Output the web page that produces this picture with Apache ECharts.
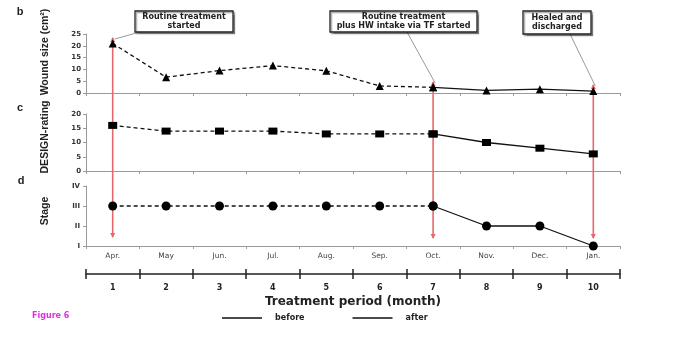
<!DOCTYPE html>
<html><head><meta charset="utf-8">
<script src="https://cdn.jsdelivr.net/npm/echarts@6/dist/echarts.min.js"></script>
<style>html,body{margin:0;padding:0;background:#fff}#c{width:688px;height:352px}</style>
</head><body><div id="c"></div>
<script>
const months = ['Apr.','May','Jun.','Jul.','Aug.','Sep.','Oct.','Nov.','Dec.','Jan.'];
const periods = ['1','2','3','4','5','6','7','8','9','10'];
const woundSize = [21, 6.7, 9.5, 11.6, 9.4, 3, 2.4, 1.1, 1.6, 0.8];
const designRating = [16, 14, 14, 14, 13, 13, 13, 10, 8, 6];
const stage = [3, 3, 3, 3, 3, 3, 3, 2, 2, 1];
const stageLabels = ['I', 'II', 'III', 'IV'];
const splitIndex = 6; // Oct.: HW intake started
const woundTicks = [0, 25, 5];
const designTicks = [0, 20, 5];

const FONT = '"Liberation Sans", Arial, sans-serif';
const WIDE = '"DejaVu Sans", sans-serif';
const before = a => a.map((v, i) => i <= splitIndex ? v : null);
const after = a => a.map((v, i) => i >= splitIndex ? v : null);

const chart = echarts.init(document.getElementById('c'), null, {renderer: 'canvas'});
const L = 86, R = 68;
const grids = [
  {left: L, right: R, top: 34, height: 59},
  {left: L, right: R, top: 114, height: 57},
  {left: L, right: R, top: 186, height: 60},
  {left: L, right: R, top: 269, height: 10}
];
const gray = '#9a9a9a';
function catAxis(gi, extra) {
  return Object.assign({
    type: 'category', gridIndex: gi, data: months, boundaryGap: true,
    axisLine: {lineStyle: {color: gray, width: 1}},
    axisTick: {show: true, length: 3, lineStyle: {color: gray}},
    axisLabel: {show: false}
  }, extra || {});
}
function valAxis(gi, min, max, itv, extra) {
  return Object.assign({
    type: 'value', gridIndex: gi, min: min, max: max, interval: itv,
    splitLine: {show: false},
    axisLine: {show: true, lineStyle: {color: gray}},
    axisTick: {show: true, length: 3, lineStyle: {color: gray}},
    axisLabel: {fontSize: 7, color: '#333', fontFamily: WIDE, fontWeight: 'bold', margin: 5}
  }, extra || {});
}
const xAxes = [
  catAxis(0), catAxis(1),
  catAxis(2, {axisLabel: {show: true, fontSize: 7.5, color: '#444', fontFamily: WIDE, margin: 6, interval: 0}}),
  {type: 'category', gridIndex: 3, data: periods, boundaryGap: true, position: 'bottom',
   axisLine: {show: false}, axisTick: {show: false},
   splitLine: {show: true, interval: 0, lineStyle: {color: '#222', width: 1.5}},
   axisLabel: {fontSize: 8, fontWeight: 'bold', color: '#222', fontFamily: WIDE, margin: 5, interval: 0},
   name: 'Treatment period (month)', nameLocation: 'middle', nameGap: 17,
   nameTextStyle: {fontSize: 12, fontWeight: 'bold', color: '#222', fontFamily: WIDE}},
  {type: 'category', gridIndex: 3, data: periods, boundaryGap: true, position: 'top', offset: -5,
   axisLine: {lineStyle: {color: '#222', width: 1.5}},
   axisTick: {show: false}, axisLabel: {show: false}}
];
const yAxes = [
  valAxis(0, woundTicks[0], woundTicks[1], woundTicks[2]),
  valAxis(1, designTicks[0], designTicks[1], designTicks[2]),
  valAxis(2, 1, stageLabels.length, 1, {axisLabel: {fontSize: 7, color: '#333', fontFamily: WIDE, fontWeight: 'bold', margin: 6,
    formatter: v => stageLabels[v - 1] || ''}}),
  {type: 'value', gridIndex: 3, show: false}
];
function pair(idx, data, symbol, size) {
  const common = {type: 'line', xAxisIndex: idx, yAxisIndex: idx, symbol: symbol, symbolSize: size,
    itemStyle: {color: '#000'}, connectNulls: false, z: 3};
  return [
    Object.assign({name: 'before', data: before(data), lineStyle: {color: '#111', width: 1.3, type: [4, 3]}}, common),
    Object.assign({name: 'after', data: after(data), lineStyle: {color: '#111', width: 1.3, type: 'solid'}}, common)
  ];
}
const series = [].concat(
  pair(0, woundSize, 'triangle', 8),
  pair(1, designRating, 'rect', [9, 7]),
  pair(2, stage, 'circle', 9)
);

chart.setOption({
  animation: false,
  grid: grids, xAxis: xAxes, yAxis: yAxes, series: series,
  legend: {
    left: 222, top: 314, padding: 0, itemWidth: 40, itemHeight: 1.5, itemGap: 48,
    data: [{name: 'before', icon: 'rect'}, {name: 'after', icon: 'rect'}],
    itemStyle: {color: '#111'},
    textStyle: {fontSize: 8, fontWeight: 'bold', color: '#222', fontFamily: WIDE, padding: [0, 0, 0, 8]},
    selectedMode: false
  }
});

// annotations anchored through the axes
const red = '#e8676b';
const xp = i => chart.convertToPixel({xAxisIndex: 0}, months[i]);
const yB = v => chart.convertToPixel({yAxisIndex: 0}, v);
const yD = v => chart.convertToPixel({yAxisIndex: 2}, v);
const arrows = [
  {i: 0, top: yB(23.3), bottom: yD(1.45)},
  {i: splitIndex, top: yB(4.7), bottom: yD(1.4)},
  {i: 9, top: yB(3.4), bottom: yD(1.4)}
];
const g = [];
arrows.forEach(a => {
  const x = xp(a.i);
  g.push({type: 'line', shape: {x1: x, y1: a.top, x2: x, y2: a.bottom}, style: {stroke: red, lineWidth: 1.6}, z: 1});
  g.push({type: 'polygon', shape: {points: [[x - 2.5, a.bottom - 4], [x + 2.5, a.bottom - 4], [x, a.bottom + 1]]}, style: {fill: red}, z: 1});
  g.push({type: 'polygon', shape: {points: [[x - 2.5, a.top + 4], [x + 2.5, a.top + 4], [x, a.top - 1]]}, style: {fill: red}, z: 1});
});
const boxes = [
  {x: 135, y: 11, w: 98, h: 21, lines: 'Routine treatment\nstarted', lx: 140, ly: 32, a: 0},
  {x: 330, y: 11, w: 147, h: 21, lines: 'Routine treatment\nplus HW intake via TF started', lx: 407, ly: 32, a: 1},
  {x: 523, y: 11, w: 68, h: 23, lines: 'Healed and\ndischarged', lx: 570, ly: 34, a: 2}
];
boxes.forEach(b => {
  const a = arrows[b.a];
  g.push({type: 'line', shape: {x1: b.lx, y1: b.ly, x2: xp(a.i) + 2, y2: a.top + 1}, style: {stroke: '#999', lineWidth: 1}, z: 2});
  g.push({type: 'rect', shape: {x: b.x, y: b.y, width: b.w, height: b.h}, style: {fill: '#fff', stroke: '#222', lineWidth: 1.3, shadowColor: 'rgba(0,0,0,0.35)', shadowOffsetX: 1.5, shadowOffsetY: 1.5, shadowBlur: 1}, z: 5});
  g.push({type: 'text', x: b.x + b.w / 2, y: b.y + b.h / 2, z: 6,
    style: {text: b.lines, align: 'center', verticalAlign: 'middle', fontSize: 8, fontWeight: 'bold', fill: '#222', fontFamily: WIDE, lineHeight: 9.5}});
});
const yNames = [
  {t: 'Wound size (cm\u00B2)', x: 45, y: 52},
  {t: 'DESIGN-rating', x: 45, y: 137},
  {t: 'Stage', x: 45, y: 211}
];
yNames.forEach(n => g.push({type: 'text', x: n.x, y: n.y, rotation: Math.PI / 2,
  style: {text: n.t, align: 'center', verticalAlign: 'middle', fontSize: 10.5, fontWeight: 'bold', fill: '#222', fontFamily: FONT}}));
[['b', 20, 12], ['c', 20, 108], ['d', 21, 181]].forEach(p => g.push({type: 'text', x: p[1], y: p[2],
  style: {text: p[0], align: 'center', verticalAlign: 'middle', fontSize: 11, fontWeight: 'bold', fill: '#222', fontFamily: FONT}}));
g.push({type: 'text', x: 32, y: 316, style: {text: 'Figure 6', verticalAlign: 'middle', fontSize: 8, fontWeight: 'bold', fill: '#e030e0', fontFamily: WIDE}});
chart.setOption({graphic: g});
</script></body></html>
